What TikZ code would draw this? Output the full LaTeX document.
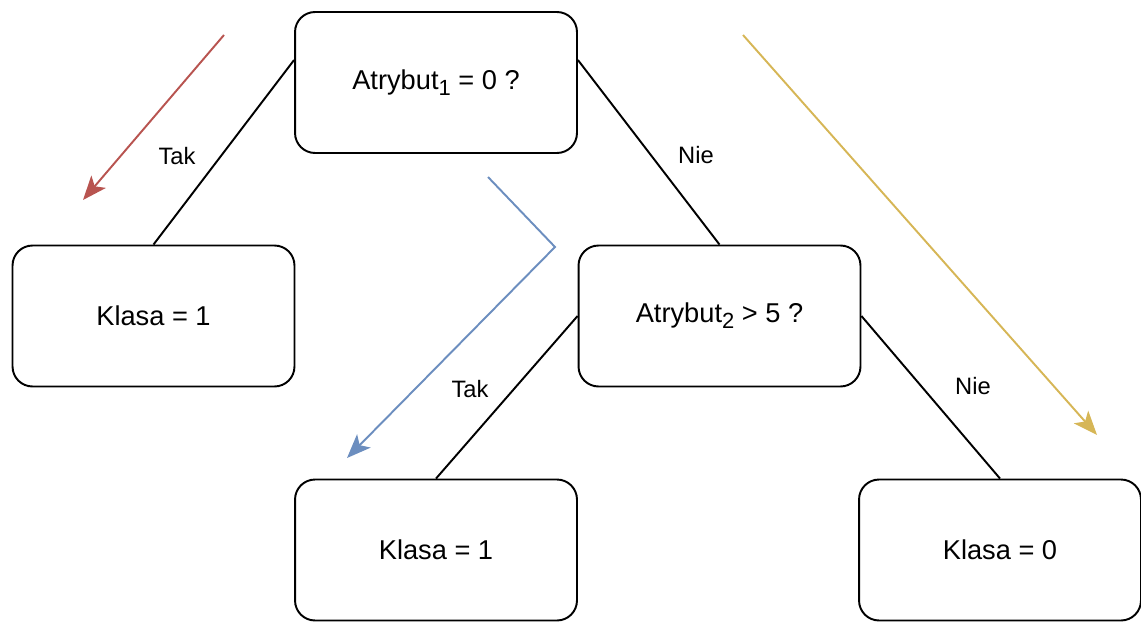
\documentclass[tikz,border=0pt]{standalone}
\usepackage{fontspec}
\setmainfont{Liberation Sans}
\usetikzlibrary{arrows.meta}
\definecolor{redflow}{HTML}{B85450}
\definecolor{blueflow}{HTML}{6C8EBF}
\definecolor{yellowflow}{HTML}{D6B656}
\newcommand{\lowidx}[1]{\raisebox{-0.4ex}{\fontsize{12.5}{14}\selectfont #1}}

\begin{document}
\begin{tikzpicture}[x=0.02cm,y=-0.02cm,
    box/.style={draw,line width=1.1pt,rounded corners=0.4cm,
      minimum width=5.64cm,minimum height=2.82cm,
      font=\fontsize{15.5}{18}\selectfont},
    branch/.style={line width=1.1pt},
    answer/.style={font=\fontsize{13.5}{16}\selectfont},
    flow/.style={line width=1.1pt,-{Stealth[length=0.48cm,width=0.38cm,inset=0.12cm]}}]
      \useasboundingbox (0,0) rectangle (1141,622);

      %%%%  Boxes
      \node[box] (root) at (436,82.5) {Atrybut\lowidx{1} = 0 ?};
      \node[box] (leafa) at (153.5,316) {Klasa = 1};
      \node[box] (split) at (719.5,316) {Atrybut\lowidx{2} > 5 ?};
      \node[box] (leafb) at (436,550) {Klasa = 1};
      \node[box] (leafc) at (1000,550) {Klasa = 0};

      %%%%  Branches
      \draw[branch] (root.171) -- (leafa.north);
      \draw[branch] (root.9) -- (split.north);
      \draw[branch] (split.west) -- (leafb.north);
      \draw[branch] (split.east) -- (leafc.north);

      \node[answer] (tak1) at (177,156) {Tak};
      \node[answer] (nie1) at (696,155) {Nie};
      \node[answer] (tak2) at (470,389) {Tak};
      \node[answer] (nie2) at (973,386) {Nie};

      %%%%  Traversal arrows
      \coordinate (redstart) at (224,35);
      \coordinate (redend) at (83,200);
      \draw[flow,redflow] (redstart) -- (redend);

      \coordinate (bluestart) at (488,177);
      \coordinate (bluebend) at (555,247);
      \coordinate (blueend) at (347,458);
      \draw[flow,blueflow] (bluestart) -- (bluebend) -- (blueend);

      \coordinate (yellowstart) at (743,35);
      \coordinate (yellowend) at (1097,435);
      \draw[flow,yellowflow] (yellowstart) -- (yellowend);
    \end{tikzpicture}
\end{document}
